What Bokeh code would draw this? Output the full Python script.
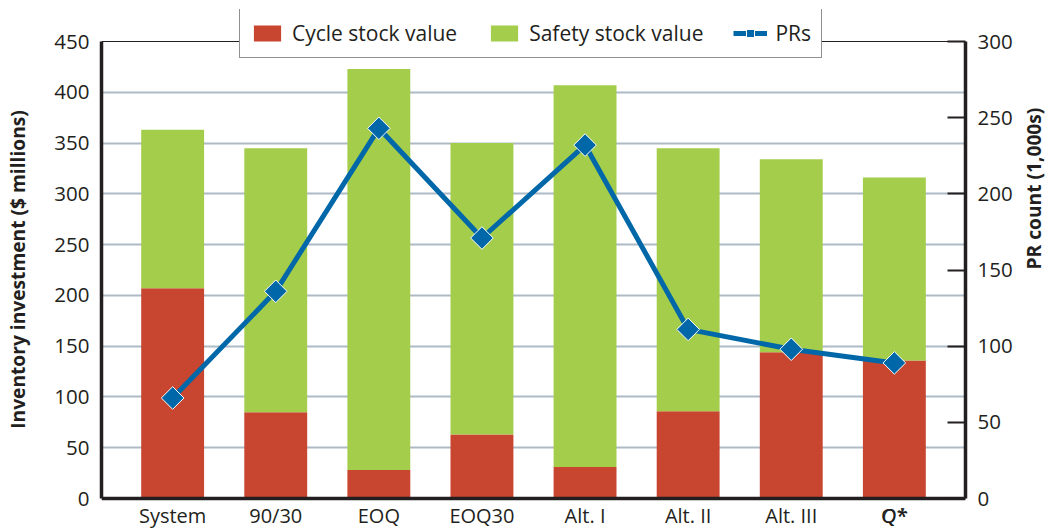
import math
from bokeh.plotting import figure
from bokeh.models import (Range1d, FactorRange, LinearAxis, FixedTicker, Legend,
                          LegendItem, Label, Span, ColumnDataSource)
from bokeh.embed import file_html
from bokeh.resources import INLINE

categories = ["System", "90/30", "EOQ", "EOQ30", "Alt. I", "Alt. II", "Alt. III", "Q*"]
cycle_stock = [207, 85, 28, 63, 31, 86, 144, 136]
safety_stock = [156, 260, 395, 287, 376, 259, 190, 180]
pr_count = [66, 136, 243, 171, 232, 111, 98, 89]
left_ticks = [0, 50, 100, 150, 200, 250, 300, 350, 400, 450]
right_ticks = [0, 50, 100, 150, 200, 250, 300]
left_title = "Inventory investment ($ millions)"
right_title = "PR count (1,000s)"

RED = "#C8452F"
GREEN = "#A3CD4A"
BLUE = "#0068A8"
GRID = "#AEBBC6"
INK = "#231F20"
FONT = "Open Sans"

# layout (pixels): the frame extends above the axis maximum (room for the
# legend that straddles the top border) and below zero (room for the
# category labels), symmetric so axis titles centre on the 0..max span
FRAME_W = 864
PAD_TOP = 32            # frame pixels above the axis maximum
PAD_BOTTOM = 31         # frame pixels below zero
AXIS_H = 457            # pixels spanned by the 0..450 axis
FRAME_H = AXIS_H + PAD_TOP + PAD_BOTTOM
LEFT_MAX = left_ticks[-1]
RIGHT_MAX = right_ticks[-1]

src = ColumnDataSource(dict(cat=categories, cycle=cycle_stock,
                            safety=safety_stock, pr=pr_count))

p = figure(x_range=FactorRange(*categories, range_padding=0.19,
                               range_padding_units="absolute"),
           y_range=Range1d(-LEFT_MAX * PAD_BOTTOM / AXIS_H,
                           LEFT_MAX * (AXIS_H + PAD_TOP) / AXIS_H),
           frame_width=FRAME_W, frame_height=FRAME_H,
           min_border_left=101, min_border_right=92,
           min_border_top=9, min_border_bottom=0,
           output_backend="svg", toolbar_location=None,
           background_fill_color="white", border_fill_color="white")
p.extra_y_ranges = {"pr": Range1d(-RIGHT_MAX * PAD_BOTTOM / AXIS_H,
                                  RIGHT_MAX * (AXIS_H + PAD_TOP) / AXIS_H)}
p.outline_line_color = None

bars = p.vbar_stack(["cycle", "safety"], x="cat", width=0.61,
                    fill_color=[RED, GREEN], line_color=None, source=src)
line = p.line(x="cat", y="pr", source=src, y_range_name="pr",
              line_color=BLUE, line_width=5)
pts = p.scatter(x="cat", y="pr", source=src, y_range_name="pr",
                marker="square", angle=math.pi / 4, size=16,
                fill_color=BLUE, line_color="white", line_width=1)

# axes
la = p.left[0]
la.ticker = FixedTicker(ticks=left_ticks)
la.bounds = (0, LEFT_MAX)
la.axis_label = left_title
ra = LinearAxis(y_range_name="pr", ticker=FixedTicker(ticks=right_ticks),
                bounds=(0, RIGHT_MAX), axis_label=right_title)
p.add_layout(ra, "right")
ba = p.below[0]
ba.fixed_location = 0
ba.major_label_overrides = {"Q*": ""}

for ax in (la, ra, ba):
    ax.axis_line_color = INK
    ax.axis_line_width = 3.5
    ax.minor_tick_line_color = None
    ax.minor_tick_in = 0
    ax.minor_tick_out = 0
    ax.major_label_text_font = FONT
    ax.major_label_text_font_size = "20.5px"
    ax.major_label_text_color = INK
    ax.axis_label_text_font = FONT
    ax.axis_label_text_font_size = "19.2px"
    ax.axis_label_text_font_style = "bold"
    ax.axis_label_text_color = INK

la.major_tick_line_color = None
la.major_tick_in = 0
la.major_tick_out = 0
la.major_label_standoff = 12
la.axis_label_standoff = 20
ba.major_tick_line_color = None
ba.major_tick_in = 0
ba.major_tick_out = 0
ba.major_label_standoff = 3
ba.major_label_text_font_size = "20px"
ra.major_tick_in = 18
ra.major_tick_out = 0
ra.major_tick_line_width = 2
ra.major_tick_line_color = INK
ra.major_label_standoff = 12
ra.axis_label_standoff = 18
ra.axis_label_orientation = math.pi / 2
ra.axis_label_text_align = "center"

p.xgrid.grid_line_color = None
p.ygrid.ticker = FixedTicker(ticks=left_ticks[1:-1])
p.ygrid.grid_line_color = GRID
p.ygrid.grid_line_width = 2

# top border of the chart at the axis maximum
p.add_layout(Span(location=LEFT_MAX, dimension="width", line_color=INK,
                  line_width=1.2))

q_index = categories.index("Q*")
qlab = Label(x=q_index + 0.5, y=0, y_offset=-3, text=categories[q_index],
             text_align="center", text_baseline="top",
             text_font=FONT, text_font_size="20px", text_font_style="italic",
             text_color=INK)
p.add_layout(qlab)

legend = Legend(items=[LegendItem(label="Cycle stock value", renderers=[bars[0]]),
                       LegendItem(label="Safety stock value", renderers=[bars[1]]),
                       LegendItem(label="PRs", renderers=[line, pts])],
                orientation="horizontal", location=(138, 471),
                glyph_width=34, glyph_height=20, label_standoff=8, spacing=30,
                padding=10, margin=0,
                label_text_font=FONT, label_text_font_size="21px",
                label_text_color=INK,
                border_line_color=INK, border_line_width=1.2,
                background_fill_color="white", background_fill_alpha=1)
p.add_layout(legend)

open("out.html", "w").write(file_html(p, INLINE))
